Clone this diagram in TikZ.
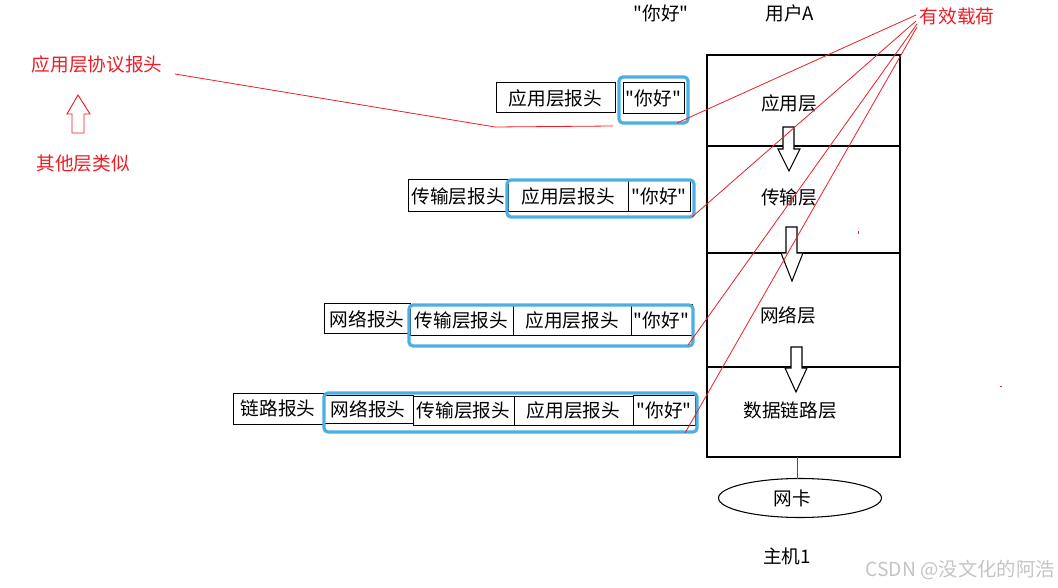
\documentclass[tikz,border=0pt]{standalone}
\usepackage{fontspec}
\newfontfamily\cjk{Noto Sans CJK SC}
\usetikzlibrary{fit,shapes.geometric}
\definecolor{lred}{RGB}{237,28,36}
\definecolor{dred}{RGB}{200,30,40}
\definecolor{hblue}{RGB}{75,175,228}
\definecolor{wmgray}{RGB}{196,196,196}
\begin{document}
\begin{tikzpicture}[x=0.75pt,y=-0.75pt,
  every node/.style={font=\cjk\fontsize{14}{16}\selectfont, inner sep=0pt},
  every label/.style={font=\cjk\fontsize{14}{16}\selectfont, inner sep=0pt},
  hdr/.style={draw, line width=0.75pt, inner sep=0pt},
  hl/.style={draw=hblue, line width=2.4pt, rounded corners=3pt, inner sep=0pt},
  layerbox/.style={draw, line width=0.9pt, inner sep=0pt},
  redlbl/.style={text=lred},
  redline/.style={draw=lred, line width=0.6pt},
  hollow/.style={draw, line width=0.8pt, fill=white}]
\useasboundingbox (0,0) rectangle (1058,588);

% ---- protocol stack ----
\node[layerbox, fit={(707,55) (900,146)}] (L1) {};
\node[layerbox, fit={(707,146) (900,253)}] (L2) {};
\node[layerbox, fit={(707,253) (900,367)}] (L3) {};
\node[layerbox, fit={(707,367) (900,457)}] (L4) {};
\node (t1) at (789,103) {应用层};
\node (t2) at (789,197) {传输层};
\node (t3) at (788,315) {网络层};
\node (t4) at (790,410) {数据链路层};

% hollow down arrows
\draw[hollow] (783,127) -- (794,127) -- (794,149) -- (800,149) -- (789,171) -- (778,149) -- (783,149) -- cycle;
\draw[hollow] (786,227) -- (797,227) -- (797,253) -- (803,253) -- (792,281) -- (781,253) -- (786,253) -- cycle;
\draw[hollow] (791,347) -- (802,347) -- (802,368) -- (807,368) -- (796,392) -- (785,368) -- (791,368) -- cycle;

% NIC and host
\node[draw, ellipse, line width=0.8pt, minimum width=163*0.75pt, minimum height=39*0.75pt] (nic) at (800,498) {};
\node (nict) at (792,498) {网卡};
\coordinate (nicTop) at (797,479);
\coordinate (stackBot) at (797,457);
\draw[dred, line width=0.7pt] (stackBot) -- (nicTop);
\node (host) at (787,556) {主机1};

% top labels
\node (msg) at (661,13) {"你好"};
\node (userA) at (790,13) {用户A};
\node[redlbl] (payload) at (957,16) {有效载荷};

% ---- row 1 ----
\node[hdr, fit={(496,83) (615,113)}, label=center:{应用层报头}] (r1a) {};
\node[hdr, fit={(623,83) (684,114)}, label=center:{"你好"}] (r1d) {};
\node[hl, fit={(619,77) (688,123)}] (h1) {};

% ---- row 2 ----
\node[hdr, fit={(408,180) (508,212)}, label=center:{传输层报头}] (r2t) {};
\node[hdr, fit={(508,181) (628,212)}, label=center:{应用层报头}] (r2a) {};
\node[hdr, fit={(628,181) (690,212)}, label=center:{"你好"}] (r2d) {};
\node[hl, fit={(507,180) (694,217)}] (h2) {};

% ---- row 3 ----
\node[hdr, fit={(324,304) (410,334)}, label=center:{网络报头}] (r3n) {};
\node[hdr, fit={(410,305) (513,336)}, label=center:{传输层报头}] (r3t) {};
\node[hdr, fit={(513,305) (631,336)}, label=center:{应用层报头}] (r3a) {};
\node[hdr, fit={(631,305) (692,336)}, label=center:{"你好"}] (r3d) {};
\node[hl, fit={(409,305) (693,346)}] (h3) {};

% ---- row 4 ----
\node[hdr, fit={(233,393) (323,424)}, label=center:{链路报头}] (r4l) {};
\node[hdr, fit={(323,395) (413,423)}, label=center:{网络报头}] (r4n) {};
\node[hdr, fit={(413,396) (514,425)}, label=center:{传输层报头}] (r4t) {};
\node[hdr, fit={(514,396) (633,425)}, label=center:{应用层报头}] (r4a) {};
\node[hdr, fit={(633,395) (695,425)}, label=center:{"你好"}] (r4d) {};
\node[hl, fit={(324,393) (697,432)}] (h4) {};

% ---- payload pointers ----
\coordinate (p1) at (916,15);
\coordinate (p2) at (916,21);
\coordinate (p3) at (917,24);
\coordinate (p4) at (917,27);
\coordinate (e1) at (677,123);
\coordinate (e2) at (692,217);
\coordinate (e3) at (688,345);
\coordinate (e4) at (685,433);
\draw[redline] (p1) -- (e1);
\draw[redline] (p2) -- (e2);
\draw[redline] (p3) -- (e3);
\draw[redline] (p4) -- (e4);

% ---- left annotation ----
\node[redlbl] (proto) at (97,64) {应用层协议报头};
\node[redlbl] (other) at (83,164) {其他层类似};
\draw[draw=lred, line width=0.7pt] (72,133) -- (72,114) -- (67,114) -- (78,95) -- (90,114) -- (84,114) -- (84,133) -- cycle;
\coordinate (q0) at (175,74);
\coordinate (q1) at (495,127);
\coordinate (q2) at (613,126);
\draw[redline] (q0) -- (q1) -- (q2);

% stray marks
\fill[lred] (858,231) rectangle (859,234);
\fill[lred] (1000,386) rectangle (1002,387);

% watermark
\node[text=wmgray, anchor=east, font=\cjk\fontsize{14.5}{16}\selectfont] (wm) at (1055,570) {CSDN @没文化的阿浩};
\end{tikzpicture}
\end{document}
